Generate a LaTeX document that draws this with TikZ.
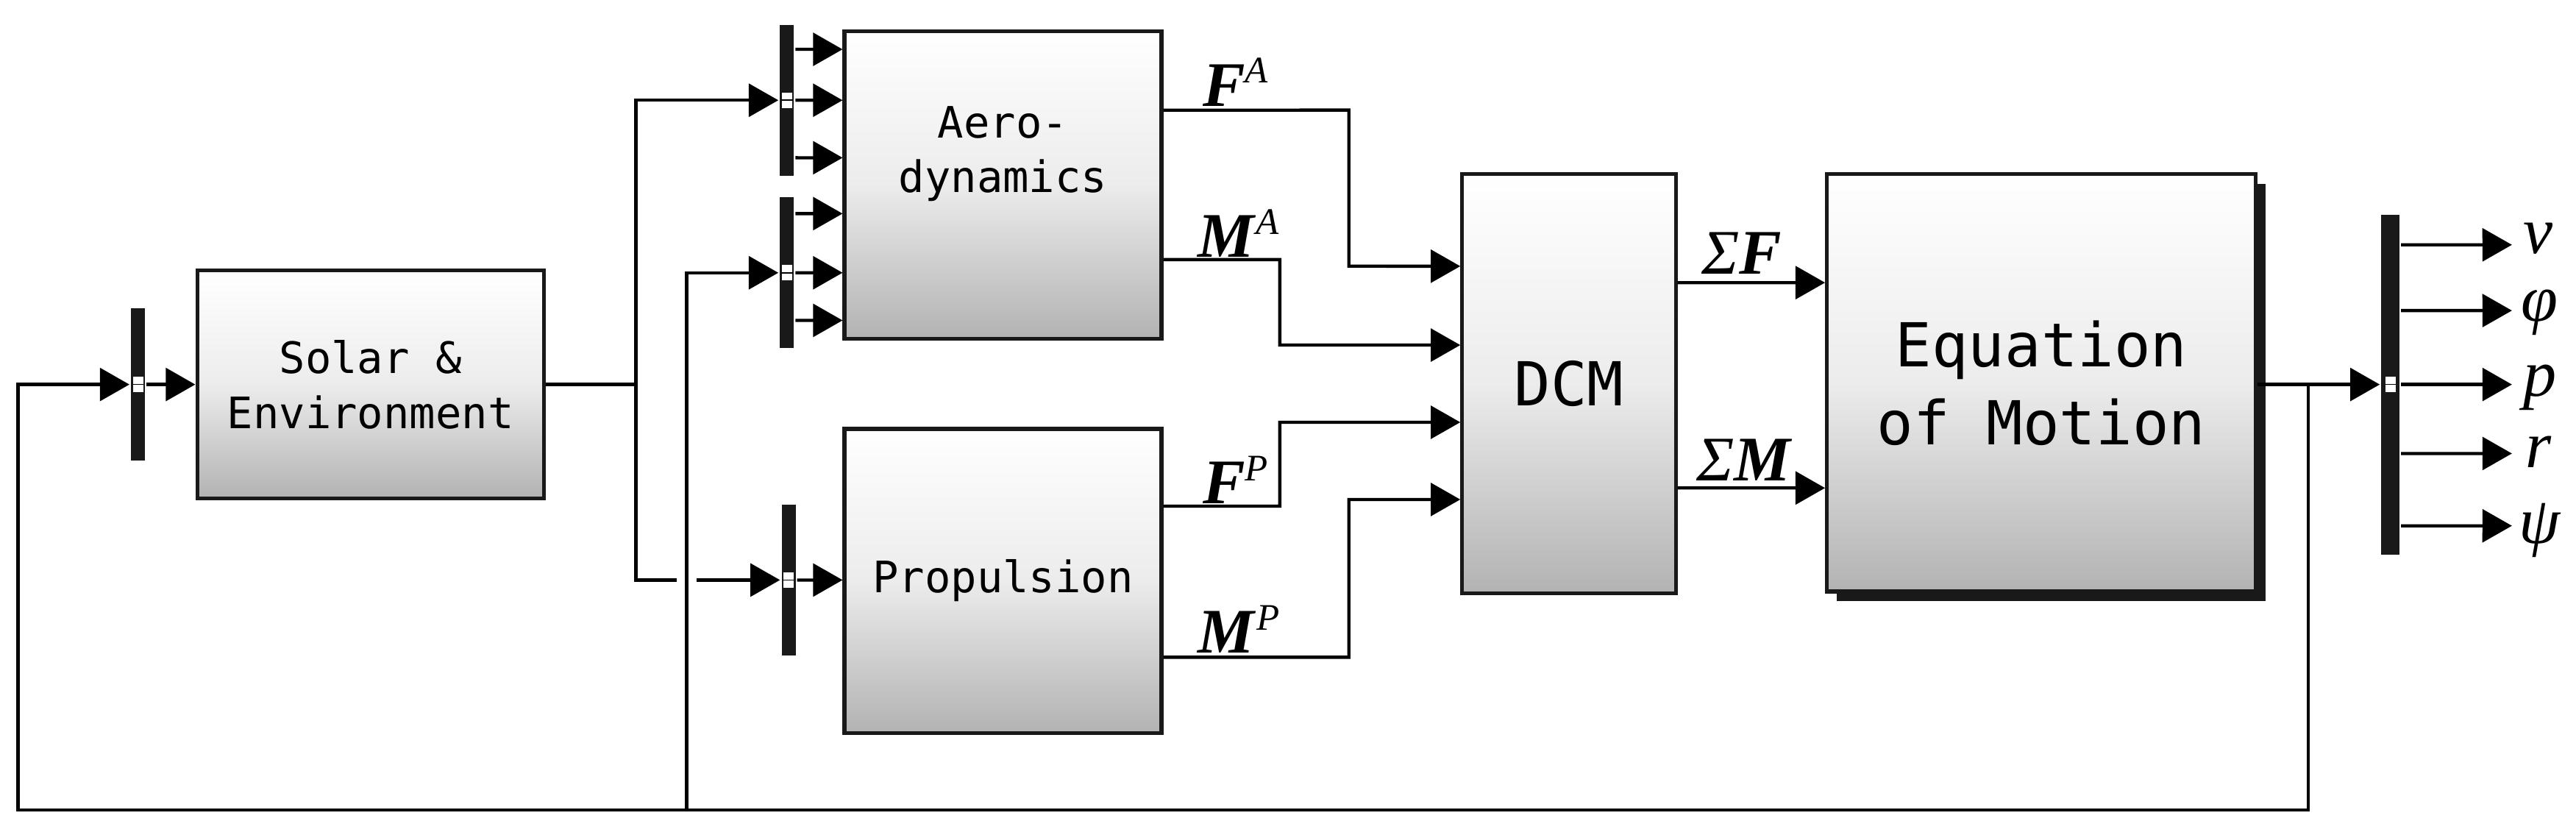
\documentclass[tikz,border=0pt]{standalone}
\usepackage{fontspec}
\setmainfont{Liberation Serif}
\setmonofont{DejaVu Sans Mono}
\usetikzlibrary{arrows.meta}
\begin{document}
\begin{tikzpicture}[x=0.02cm,y=-0.02cm,
  line width=1.1pt,
  arr/.style={-{Triangle[length=0.36cm,width=0.4cm]}},
  box/.style={draw=black!90, line width=1.3pt, top color=white, bottom color=gray!60, middle color=gray!15, shading angle=0, font=\ttfamily\fontsize{15}{19}\selectfont, align=center, inner sep=0pt},
  mux/.style={fill=black!90, draw=none, minimum width=0.17cm, inner sep=0pt},
  win/.style={fill=white, draw=black!90, line width=0.4pt, minimum width=0.14cm, minimum height=0.2cm, inner sep=0pt},
  lab/.style={font=\fontsize{22}{24}\selectfont, inner sep=1pt},
  olab/.style={font=\itshape\fontsize{23}{25}\selectfont, inner sep=0pt}]
\useasboundingbox (0,0) rectangle (1568,508);
% boxes
\node[box, minimum width=4.22cm, minimum height=2.78cm] (solar) at (225.5,234) {Solar \&\\Environment};
\node[box, minimum width=3.86cm, minimum height=3.74cm] (aero) at (610.5,112.5) {Aero-\\dynamics\\[0.2cm]};
\node[box, minimum width=3.86cm, minimum height=3.70cm] (prop) at (610.5,353.5) {Propulsion};
\node[box, minimum width=2.60cm, minimum height=5.10cm, font=\ttfamily\fontsize{21}{25}\selectfont] (dcm) at (955,233.5) {DCM};
\fill[black!90] (1118,112) rectangle (1379,366);
\node[box, minimum width=5.22cm, minimum height=5.08cm, font=\ttfamily\fontsize{21}{27}\selectfont] (eom) at (1242.5,233) {Equation\\of Motion};
% muxes
\node[mux, minimum height=1.86cm] (mS) at (84,234) {};
\node[mux, minimum height=1.84cm] (mA1) at (479,61) {};
\node[mux, minimum height=1.84cm] (mA2) at (479,166) {};
\node[mux, minimum height=1.84cm] (mP) at (480,353) {};
\node[mux, minimum height=4.14cm, minimum width=0.22cm] (mO) at (1455,234) {};
\foreach \m in {mS,mA1,mA2,mP,mO}{
  \node[win] at (\m) {};
  \draw[line width=0.4pt] ([xshift=-0.07cm]\m.center) -- ([xshift=0.07cm]\m.center);
}
% solar input and output
\draw[arr] (mS.east) -- (solar.west);
\draw (solar.east) -- (387,234) coordinate (js);
\draw[arr] (js) |- (mA1.west);
\draw (js) |- (412,353) coordinate (jg);
\draw[arr] (424,353) coordinate (jh) -- (mP.west);
% mux outputs
\draw[arr] ([yshift=0.62cm]mA1.east) -- ([yshift=1.65cm]aero.west);
\draw[arr] (mA1.east) -- ([yshift=1.03cm]aero.west);
\draw[arr] ([yshift=-0.70cm]mA1.east) -- ([yshift=0.33cm]aero.west);
\draw[arr] ([yshift=0.72cm]mA2.east) -- ([yshift=-0.35cm]aero.west);
\draw[arr] (mA2.east) -- ([yshift=-1.07cm]aero.west);
\draw[arr] ([yshift=-0.58cm]mA2.east) -- ([yshift=-1.65cm]aero.west);
\draw[arr] (mP.east) -- ([yshift=0.01cm]prop.west);
% to DCM
\draw[arr] ([yshift=0.91cm]aero.east) -- (821,67) -- (821,162) -- ([yshift=1.43cm]dcm.west);
\draw[arr] ([yshift=-0.91cm]aero.east) -- (779,158) -- (779,210) -- ([yshift=0.47cm]dcm.west);
\draw[arr] ([yshift=0.91cm]prop.east) -- (779,308) -- (779,257) -- ([yshift=-0.47cm]dcm.west);
\draw[arr] ([yshift=-0.93cm]prop.east) -- (821,400) -- (821,304) -- ([yshift=-1.41cm]dcm.west);
\node[lab] (lFA) at (752,50) {\textbf{\textit{F}}\raisebox{0.8ex}{\fontsize{13}{13}\selectfont\textit{A}}};
\node[lab] (lMA) at (754,142) {\textbf{\textit{M}}\raisebox{0.8ex}{\fontsize{13}{13}\selectfont\textit{A}}};
\node[lab] (lFP) at (752,292) {\textbf{\textit{F}}\raisebox{0.8ex}{\fontsize{13}{13}\selectfont\textit{P}}};
\node[lab] (lMP) at (754,383) {\textbf{\textit{M}}\raisebox{0.8ex}{\fontsize{13}{13}\selectfont\textit{P}}};
% DCM to EoM
\draw[arr] ([yshift=1.23cm]dcm.east) -- ([yshift=1.22cm]eom.west);
\draw[arr] ([yshift=-1.27cm]dcm.east) -- ([yshift=-1.28cm]eom.west);
\node[lab] (lSF) at (1060,154) {\textit{Σ}\textbf{\textit{F}}};
\node[lab] (lSM) at (1062,280) {\textit{Σ}\textbf{\textit{M}}};
% output
\draw (eom.east |- mO.center) -- (1405,234) coordinate (jo);
\draw[arr] (jo) -- (mO.west);
\node[olab] (lv) at (1545,145) {v};
\node[olab] (lphi) at (1546,190) {φ};
\node[olab] (lp) at (1546,236) {p};
\node[olab] (lr) at (1545,275) {r};
\node[olab] (lpsi) at (1546,323) {ψ};
\draw[arr] ([yshift=1.70cm]mO.east) -- (1529,149);
\draw[arr] ([yshift=0.90cm]mO.east) -- (1529,189);
\draw[arr] (mO.east) -- (1529,234);
\draw[arr] ([yshift=-0.84cm]mO.east) -- (1529,276);
\draw[arr] ([yshift=-1.72cm]mO.east) -- (1529,320);
% feedback
\draw[arr] (jo) -- (1405,493) -- (11,493) -- (11,234) -- (mS.west);
\draw[arr] (418,493) coordinate (jb) -- (418,166) -- (mA2.west);
\end{tikzpicture}
\end{document}
